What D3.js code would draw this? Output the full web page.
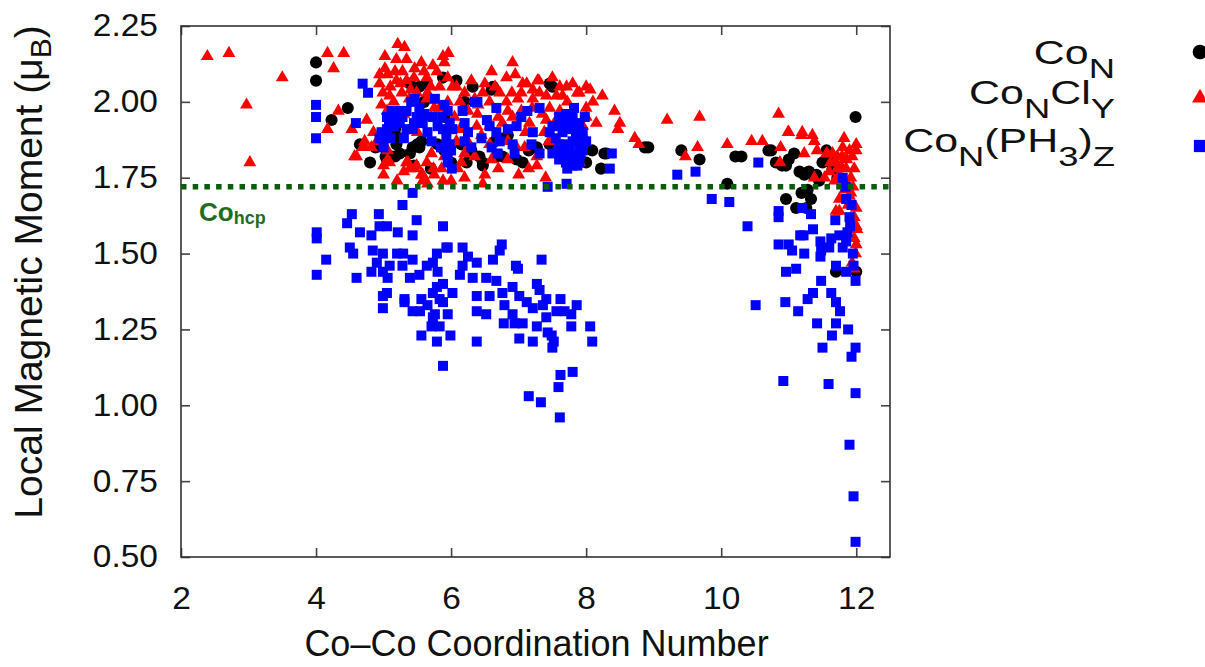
<!DOCTYPE html>
<html>
<head>
<meta charset="utf-8">
<script src="https://cdn.jsdelivr.net/npm/d3@7"></script>
<style>
  body { margin: 0; background: #fff; }
</style>
</head>
<body>
<div id="chart"></div>
<script>
// Co-Co coordination number vs local magnetic moment, three cluster families

const xTicks = [2, 4, 6, 8, 10, 12];
const yTicks = [0.5, 0.75, 1.0, 1.25, 1.5, 1.75, 2.0, 2.25];
const coHcp = 1.72;

// Co_N  (black circles)
const coN = [
  [4.0,2.13],[4.0,2.07],[4.47,1.98],[4.23,1.94],[4.65,1.86],[4.8,1.80],[4.88,1.85],[5.03,1.82],
  [5.12,1.82],[5.19,1.86],[5.24,1.83],[5.39,1.83],[5.43,1.85],[5.5,1.86],[5.56,1.87],[5.39,2.06],
  [5.53,2.05],[5.64,2.06],[5.88,2.08],[6.08,2.07],[5.17,1.91],[5.24,1.88],[5.8,1.86],[5.05,1.81],
  [5.17,1.82],[5.53,1.85],[6.23,1.80],[6.47,1.80],[6.67,1.82],[6.6,2.04],[6.32,2.05],[6.62,2.05],
  [7.46,2.06],[7.5,2.05],[6.42,1.82],[6.47,1.79],[6.3,1.84],[6.65,1.87],[6.72,1.88],[6.84,1.89],
  [6.76,1.82],[6.97,1.81],[7.06,1.80],[7.27,1.85],[7.46,1.86],[8.09,1.84],[8.27,1.83],[8.22,1.78],
  [8.3,1.83],[8.87,1.85],[8.92,1.85],[9.41,1.84],[9.68,1.81],[10.21,1.82],[10.09,1.73],[11.99,1.95],
  [10.3,1.82],[10.7,1.84],[10.74,1.84],[10.81,1.80],[10.9,1.79],[11.0,1.81],[11.08,1.83],[10.96,1.79],
  [11.16,1.77],[11.23,1.76],[11.3,1.77],[11.35,1.76],[11.41,1.76],[11.5,1.80],[11.56,1.84],[11.6,1.82],
  [11.65,1.78],[11.72,1.75],[11.45,1.74],[11.19,1.70],[11.33,1.68],[10.96,1.68],[11.11,1.65],[11.26,1.65],
  [11.28,1.71],[11.7,1.44],[12.0,1.44],[5.9,1.84],[6.0,1.80],[5.7,1.78],[5.45,1.79],[6.15,1.86],
  [7.15,1.84],[7.8,1.82],[8.0,1.80],[5.6,2.0],[5.9,1.95],[6.2,2.0]
];

// Co_NCl_Y  (red triangles)
const coNCl = [
  [2.39,2.15],[2.71,2.16],[2.97,1.99],[3.5,2.08],[3.02,1.80],
  [4.17,2.16],[4.41,2.16],[4.26,2.11],[4.33,1.97],[4.17,1.91],[4.53,1.91],[4.75,1.94],[4.6,1.82],
  [4.72,1.85],[4.57,1.82],[4.69,1.85],[4.82,1.85],[4.9,1.87],[4.72,1.87],
  [5.21,2.19],[5.31,2.18],[5.02,2.15],[5.19,2.14],[5.34,2.14],[5.56,2.13],[5.73,2.12],[5.88,2.15],
  [5.96,2.16],[5.9,2.13],[5.02,2.11],[4.94,2.09],[5.06,2.09],[5.17,2.10],[5.28,2.10],[5.46,2.11],
  [5.19,2.07],[5.34,2.07],[5.64,2.08],[5.79,2.10],[4.94,2.06],[4.99,2.03],[4.97,1.99],[5.09,2.02],
  [5.27,2.03],[5.49,2.03],[5.65,2.03],[5.83,2.05],[6.02,2.05],[5.64,2.01],[5.83,1.98],[5.06,1.84],
  [5.09,1.80],[5.34,1.80],[5.39,1.78],[5.46,1.78],[5.56,1.76],[5.58,1.74],[5.64,1.80],[5.71,1.83],
  [5.88,1.74],[5.86,1.78],[5.06,1.81],[5.36,1.80],[5.49,1.79],[5.58,1.76],[5.65,1.73],[5.74,1.78],
  [6.47,1.73],[5.4,2.04],[5.55,1.96],[5.7,1.95],[5.1,1.93],[5.3,1.96],[5.95,2.0],[5.5,1.9],
  [6.05,1.95],[5.2,1.74],[5.0,1.76],[5.9,1.82],[6.1,1.78],[6.2,1.75],[5.75,1.98],[5.15,2.0],
  [5.1,2.05],[5.25,2.06],[5.45,2.08],[5.6,2.1],[5.7,2.05],[5.95,2.08],[5.38,2.01],[5.05,1.97],
  [4.85,1.9],[5.0,1.79],[5.3,1.77],[5.75,1.76],[6.0,1.74],
  [6.91,2.13],[6.6,2.10],[6.82,2.08],[7.12,2.06],[7.28,2.07],[7.61,2.05],[7.71,2.05],[8.0,2.05],
  [8.06,2.04],[8.24,2.02],[6.08,2.05],[6.2,2.03],[6.47,2.03],[6.72,2.03],[6.9,2.03],[7.04,2.03],
  [7.41,2.02],[7.56,2.02],[7.87,2.03],[6.13,2.0],[6.35,2.01],[6.57,2.0],[6.82,2.0],[6.99,2.01],
  [7.21,2.01],[7.31,2.03],[7.72,2.0],[8.0,1.98],[6.25,1.97],[6.39,1.96],[6.84,1.97],[7.04,1.97],
  [7.46,1.98],[7.61,1.97],[6.13,1.91],[6.38,1.92],[6.57,1.92],[6.76,1.93],[6.91,1.95],[7.16,1.93],
  [7.41,1.94],[7.53,1.93],[6.08,1.87],[6.27,1.86],[6.57,1.86],[6.84,1.87],[6.97,1.85],[7.09,1.85],
  [7.27,1.82],[7.38,1.90],[6.35,1.82],[6.6,1.81],[6.84,1.81],[7.27,1.79],[7.9,1.80],[7.95,1.92],
  [8.0,1.95],[7.9,1.86],[7.98,1.88],[7.06,2.06],[7.3,2.07],[7.21,2.04],[7.9,2.03],[8.42,1.97],
  [8.5,1.93],[8.47,1.91],[8.72,1.88],[8.78,1.86],[9.2,1.94],[9.68,1.95],[9.65,1.85],[9.47,1.82],
  [6.5,1.76],[6.7,1.78],[7.0,1.76],[7.4,1.75],[7.1,1.9],[6.45,1.89],[6.7,1.95],[7.2,1.98],
  [7.45,1.87],[6.2,1.83],[7.65,2.02],[6.3,2.07],[6.5,2.06],[6.95,2.09],[7.5,2.08],[7.8,2.06],
  [8.1,2.0],[6.4,1.99],[6.65,2.05],[7.35,1.96],[8.15,1.93],[6.15,1.8],[7.15,1.78],
  [10.09,1.86],[10.45,1.87],[10.61,1.87],[10.85,1.96],[10.88,1.85],[11.0,1.90],[11.19,1.89],[11.2,1.90],
  [11.35,1.89],[11.38,1.87],[11.82,1.88],[12.0,1.86],[11.57,1.83],[11.38,1.75],[11.53,1.75],[10.99,1.90],
  [10.87,1.80],[11.23,1.83],[11.42,1.84],[11.56,1.83],[11.65,1.83],[11.72,1.82],[11.79,1.82],[11.86,1.81],
  [11.94,1.82],[11.7,1.80],[11.77,1.79],[11.85,1.78],[11.97,1.78],[11.6,1.77],[12.0,1.84],[11.8,1.85],
  [11.9,1.84],[11.75,1.76],[11.92,1.75],[11.68,1.74],[11.87,1.73],[11.95,1.72],[11.75,1.68],[11.7,1.64],
  [11.75,1.64],[12.0,1.65],[11.97,1.62],[12.0,1.59],[12.01,1.58],[11.97,1.55],[12.0,1.53],[11.94,1.47],
  [11.97,1.45],[11.92,1.70],[11.88,1.66],[11.99,1.50],[11.93,1.60],[11.83,1.71],[11.72,1.78],[11.62,1.80],
  [11.9,1.69]
];

// Co_N(PH3)_Z  (blue squares)
const coNPH3 = [
  [4.0,1.99],[4.0,1.95],[4.0,1.88],[4.69,2.06],[4.77,2.03],[4.59,1.93],
  [4.97,1.90],[4.94,1.88],[5.05,1.95],[5.12,1.97],[5.19,1.95],[5.24,1.93],[5.28,1.95],[5.34,1.97],
  [5.41,2.0],[5.46,2.01],[5.53,1.98],[5.49,1.95],[5.05,1.91],[4.99,1.88],[5.34,1.91],[5.43,1.91],
  [5.58,1.93],[5.65,1.90],[5.71,1.87],[5.76,2.01],[5.95,1.97],[5.73,1.95],[5.8,1.92],[5.88,1.91],
  [5.93,1.88],[5.98,1.86],[5.93,1.83],[5.95,1.80],[6.01,1.78],[6.02,1.91],[5.0,1.85],[5.1,1.88],
  [5.15,1.92],[5.3,1.88],[5.85,1.85],[5.87,1.95],[5.98,1.93],[5.9,1.99],[5.6,1.96],[5.45,1.93],
  [5.25,1.97],[5.08,1.93],[5.95,1.83],[6.0,1.84],
  [6.35,2.0],[6.39,2.0],[6.67,1.98],[7.13,1.97],[7.31,1.98],[6.17,1.97],[6.2,1.93],[6.53,1.94],
  [6.57,1.92],[6.67,1.90],[6.84,1.91],[6.97,1.92],[7.04,1.95],[6.72,1.87],[6.91,1.86],[6.94,1.83],
  [6.69,1.83],[7.21,1.90],[7.19,1.86],[7.31,1.83],[7.46,1.90],[7.5,1.83],[6.2,1.87],[6.25,1.90],
  [6.3,1.85],[6.45,1.88],[6.6,1.85],
  [7.6,1.95],[7.7,1.96],[7.8,1.95],[7.9,1.93],[7.65,1.9],[7.75,1.91],[7.85,1.9],[7.95,1.9],
  [7.6,1.86],[7.7,1.86],[7.8,1.87],[7.9,1.86],[7.65,1.83],[7.75,1.82],[7.85,1.83],[7.95,1.84],
  [7.7,1.8],[7.8,1.79],[7.9,1.8],[7.6,1.81],[7.55,1.88],[7.98,1.95],[7.82,1.98],[7.5,1.92],
  [7.87,1.79],[7.72,1.78],[7.68,1.93],[7.75,1.85],[7.85,1.88],[7.92,1.83],[7.63,1.92],[7.78,1.93],
  [8.0,1.87],[7.58,1.84],[8.38,1.83],[8.35,1.78],[7.43,1.72],[7.71,1.73],
  [9.35,1.76],[9.62,1.77],[9.86,1.68],[10.12,1.67],[10.55,1.80],[10.39,1.59],
  // low branch, N = 4..8
  [5.43,1.70],[5.28,1.66],[4.53,1.63],[4.93,1.63],[4.46,1.60],[4.65,1.57],[4.01,1.57],[4.01,1.55],
  [4.15,1.48],[4.01,1.43],[4.5,1.52],[4.55,1.50],[4.6,1.42],[4.82,1.56],[4.94,1.59],[5.05,1.59],
  [5.21,1.57],[5.43,1.56],[5.49,1.61],[5.88,1.59],[4.84,1.51],[4.99,1.50],[5.2,1.50],[5.29,1.50],
  [4.9,1.47],[5.09,1.46],[4.82,1.44],[4.99,1.44],[5.06,1.42],[5.28,1.46],[5.43,1.48],[5.53,1.43],
  [5.39,1.42],[5.64,1.46],[5.73,1.47],[5.79,1.50],[5.93,1.52],[4.99,1.36],[5.05,1.37],[4.99,1.32],
  [5.31,1.35],[5.43,1.31],[5.56,1.35],[5.65,1.33],[5.73,1.37],[5.79,1.39],[5.83,1.35],[5.88,1.40],
  [5.76,1.30],[5.71,1.26],[5.56,1.23],[5.79,1.21],[5.88,1.13],
  [5.95,1.52],[6.17,1.52],[6.25,1.49],[6.38,1.47],[6.17,1.46],[6.75,1.53],[6.72,1.51],[6.62,1.48],
  [6.96,1.46],[6.99,1.45],[7.34,1.48],[5.8,1.44],[6.13,1.43],[6.32,1.42],[6.52,1.42],[6.67,1.41],
  [6.38,1.36],[6.57,1.36],[6.76,1.37],[6.91,1.39],[7.01,1.36],[7.27,1.40],[7.31,1.38],[7.41,1.35],
  [7.12,1.34],[7.21,1.32],[7.36,1.33],[6.02,1.37],[5.88,1.34],[5.95,1.30],[5.73,1.29],[5.83,1.26],
  [5.54,1.31],[5.31,1.34],[5.99,1.23],[6.38,1.31],[6.52,1.30],[6.38,1.21],[6.79,1.33],[6.91,1.30],
  [6.78,1.27],[6.94,1.27],[7.06,1.27],[7.01,1.22],[7.21,1.21],[7.27,1.26],[7.41,1.29],[7.43,1.24],
  [7.49,1.23],[7.52,1.21],[7.5,1.19],[7.56,1.31],[7.62,1.35],[7.68,1.31],[7.78,1.30],[7.86,1.33],
  [7.78,1.26],[8.06,1.26],[8.09,1.21],[7.62,1.10],[7.8,1.11],[7.59,1.06],[7.15,1.03],[7.33,1.01],
  [7.61,0.96],
  // N = 10..12
  [10.85,1.64],[10.85,1.62],[10.85,1.53],[11.0,1.53],[11.05,1.51],[11.23,1.50],[11.17,1.56],[11.22,1.56],
  [11.36,1.58],[11.33,1.63],[11.2,1.65],[10.96,1.44],[11.11,1.45],[11.47,1.54],[11.48,1.51],[11.47,1.49],
  [11.48,1.41],[11.6,1.52],[11.63,1.55],[11.69,1.61],[11.7,1.46],[11.75,1.56],[11.8,1.52],[11.85,1.54],
  [11.8,1.75],[11.84,1.72],[11.85,1.68],[11.93,1.66],[11.9,1.62],[11.91,1.59],[11.87,1.57],[11.95,1.50],
  [11.96,1.46],[11.99,1.41],[11.85,1.44],[10.95,1.34],[11.14,1.31],[10.51,1.33],[11.28,1.35],[11.36,1.37],
  [11.63,1.37],[11.7,1.34],[11.76,1.31],[11.42,1.27],[11.7,1.27],[11.64,1.23],[11.88,1.25],[11.5,1.19],
  [11.99,1.19],[11.93,1.16],[10.92,1.08],[11.59,1.07],[11.99,1.04],[11.9,0.87],[11.96,0.70],[11.99,0.55]
];

const width = 1205, height = 667;
const plot = {left: 181, right: 890, top: 26, bottom: 557};
const font = "'Liberation Sans', Arial, Helvetica, sans-serif";

const svg = d3.select("#chart")
  .append("svg")
  .attr("width", width)
  .attr("height", height)
  .style("font-family", font);

const x = d3.scaleLinear().domain([2, 12.5]).range([plot.left, plot.right]);
const y = d3.scaleLinear().domain([0.5, 2.25]).range([plot.bottom, plot.top]);

const tickLen = 9, tickSX = 1.08;

// axes with inward ticks on all four sides
const gx = svg.append("g")
  .attr("transform", `translate(0,${plot.bottom})`)
  .call(d3.axisBottom(x).tickValues(xTicks).tickSizeInner(-tickLen).tickSizeOuter(0).tickPadding(30));
gx.selectAll("text")
  .attr("transform", `scale(${tickSX},1)`);

const gy = svg.append("g")
  .attr("transform", `translate(${plot.left},0)`)
  .call(d3.axisLeft(y).tickValues(yTicks).tickFormat(d3.format(".2f"))
    .tickSizeInner(-tickLen).tickSizeOuter(0).tickPadding(23));
gy.selectAll("text")
  .attr("x", 0)
  .attr("transform", `translate(-23,0) scale(${tickSX},1)`);

svg.append("g")
  .attr("transform", `translate(0,${plot.top})`)
  .call(d3.axisTop(x).tickValues(xTicks).tickFormat("").tickSizeInner(-tickLen).tickSizeOuter(0));
svg.append("g")
  .attr("transform", `translate(${plot.right},0)`)
  .call(d3.axisRight(y).tickValues(yTicks).tickFormat("").tickSizeInner(-tickLen).tickSizeOuter(0));

svg.selectAll(".domain").remove();
svg.selectAll(".tick line").attr("stroke", "#444").attr("stroke-width", 1.6);
svg.selectAll(".tick text")
  .style("font-family", font)
  .style("font-size", "31px")
  .attr("fill", "#111");

svg.append("rect")
  .attr("x", plot.left).attr("y", plot.top)
  .attr("width", plot.right - plot.left).attr("height", plot.bottom - plot.top)
  .attr("fill", "none").attr("stroke", "#333").attr("stroke-width", 1.6);

// points
const symCircle = d3.symbol().type(d3.symbolCircle).size(115);
const symTri = d3.symbol().type(d3.symbolTriangle).size(72);
const symSq = d3.symbol().type(d3.symbolSquare).size(100);

svg.append("g").selectAll("path")
  .data(coN).join("path")
  .attr("transform", d => `translate(${x(d[0])},${y(d[1])})`)
  .attr("d", symCircle).attr("fill", "#000");

svg.append("g").selectAll("path")
  .data(coNCl).join("path")
  .attr("transform", d => `translate(${x(d[0])},${y(d[1])})`)
  .attr("d", symTri).attr("fill", "#ff0000");

svg.append("g").selectAll("path")
  .data(coNPH3).join("path")
  .attr("transform", d => `translate(${x(d[0])},${y(d[1])})`)
  .attr("d", symSq).attr("fill", "#0000ff");

// bulk hcp Co reference line
svg.append("line")
  .attr("x1", plot.left).attr("x2", plot.right)
  .attr("y1", y(coHcp)).attr("y2", y(coHcp))
  .attr("stroke", "#0b5d0b").attr("stroke-width", 5.5)
  .attr("stroke-dasharray", "5.5,6.2");

const hcp = svg.append("text")
  .attr("x", 199).attr("y", 221)
  .attr("fill", "#1f6e1f").style("font-weight", "bold").style("font-size", "26px");
hcp.append("tspan").text("Co");
hcp.append("tspan").attr("dy", 3).style("font-size", "18px").text("hcp");

// axis titles
svg.append("text")
  .attr("x", (plot.left + plot.right) / 2 + 1)
  .attr("y", 656)
  .attr("text-anchor", "middle")
  .style("font-size", "36px")
  .attr("fill", "#111")
  .text("Co\u2013Co Coordination Number");

const yt = svg.append("text")
  .attr("transform", "translate(42,272) rotate(-90)")
  .attr("text-anchor", "middle")
  .style("font-size", "39px")
  .attr("fill", "#111");
yt.append("tspan").text("Local Magnetic Moment (\u03bc");
yt.append("tspan").attr("dy", 9).style("font-size", "30px").text("B");
yt.append("tspan").attr("dy", -9).text(")");

// legend
const legCircle = d3.symbol().type(d3.symbolCircle).size(170);
const legTri = d3.symbol().type(d3.symbolTriangle).size(110);
const legSq = d3.symbol().type(d3.symbolSquare).size(150);
const legendRows = [
  {y: 64, parts: [["Co", 0], ["N", 1]], mark: legCircle, color: "#000", my: 52},
  {y: 104, parts: [["Co", 0], ["N", 1], ["Cl", 0], ["Y", 1]], mark: legTri, color: "#ff0000", my: 98},
  {y: 152, parts: [["Co", 0], ["N", 1], ["(PH", 0], ["3", 1], [")", 0], ["Z", 1]], mark: legSq, color: "#0000ff", my: 146}
];
const legend = svg.append("g");
legendRows.forEach(r => {
  const t = legend.append("g")
    .attr("transform", `translate(1115,${r.y}) scale(1.3,1)`)
    .append("text")
    .attr("text-anchor", "end")
    .style("font-size", "33px")
    .attr("fill", "#111");
  let sub = 0;
  r.parts.forEach(([s, isSub]) => {
    const dy = (isSub - sub) * 14;
    sub = isSub;
    t.append("tspan").attr("dy", dy)
      .style("font-size", isSub ? "28px" : "33px")
      .text(s);
  });
  legend.append("path")
    .attr("transform", `translate(1200,${r.my})`)
    .attr("d", r.mark).attr("fill", r.color);
});
</script>
</body>
</html>
